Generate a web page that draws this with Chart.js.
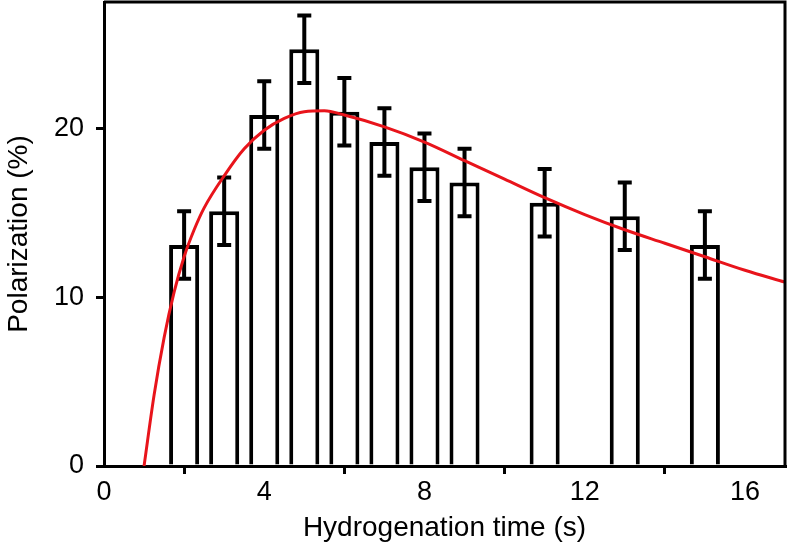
<!DOCTYPE html>
<html>
<head>
<meta charset="utf-8">
<script src="https://cdn.jsdelivr.net/npm/chart.js@4"></script>
<style>
  html, body { margin: 0; padding: 0; background: #fff; }
  #wrap { width: 788px; height: 555px; }
</style>
</head>
<body>
<div id="wrap"><canvas id="chart" width="788" height="555"></canvas></div>
<script>
// measured bars (hydrogenation time in s, polarization in %)
const barTimes = [2, 3, 4, 5, 6, 7, 8, 9, 11, 13, 15];
const barValues = [13.1, 15.1, 20.8, 24.7, 21.0, 19.2, 17.7, 16.8, 15.6, 14.8, 13.1];
const barErrors = [2.0, 2.0, 2.0, 2.0, 2.0, 2.0, 2.0, 2.0, 2.0, 2.0, 2.0];

// fitted curve
const fitTimes = [1, 1.25, 1.5, 1.75, 2, 2.25, 2.5, 3, 3.5, 4, 4.5, 5, 5.5, 6, 7, 8, 9, 10, 11, 12, 13, 14, 15, 16, 17];
const fitValues = [0, 4.2, 7.6, 10.3, 12.4, 14.0, 15.3, 17.2, 18.8, 19.9, 20.6, 21.0, 21.05, 20.8, 20.1, 19.2, 18.1, 17.0, 15.9, 14.9, 14.0, 13.2, 12.4, 11.6, 10.9];

const xTicks = [0, 4, 8, 12, 16];
const yTicks = [0, 10, 20];

const font = "'Liberation Sans', Arial, Helvetica, sans-serif";

const errorBars = {
    id: "errorBars",
    afterDatasetDraw(chart, args) {
        if (args.index !== 0) return;
        const ctx = chart.ctx;
        const xs = chart.scales.x;
        const ys = chart.scales.y;
        ctx.save();
        ctx.strokeStyle = "#000";
        ctx.lineWidth = 4;
        barTimes.forEach((t, i) => {
            const px = xs.getPixelForValue(t);
            const top = ys.getPixelForValue(barValues[i] + barErrors[i]);
            const bot = ys.getPixelForValue(barValues[i] - barErrors[i]);
            ctx.beginPath();
            ctx.moveTo(px, top);
            ctx.lineTo(px, bot);
            ctx.moveTo(px - 7, top);
            ctx.lineTo(px + 7, top);
            ctx.moveTo(px - 7, bot);
            ctx.lineTo(px + 7, bot);
            ctx.stroke();
        });
        ctx.restore();
    }
};

const frame = {
    id: "frame",
    afterDraw(chart) {
        const { ctx, chartArea } = chart;
        ctx.save();
        ctx.strokeStyle = "#000";
        ctx.lineWidth = 3;
        ctx.beginPath();
        ctx.moveTo(chartArea.left, chartArea.top);
        ctx.lineTo(chartArea.right, chartArea.top);
        ctx.lineTo(chartArea.right, chartArea.bottom);
        ctx.stroke();
        ctx.restore();
    }
};

const ctx = document.getElementById("chart").getContext("2d");
new Chart(ctx, {
    type: "bar",
    data: {
        datasets: [{
            type: "bar",
            data: barTimes.map((t, i) => ({ x: t, y: barValues[i] })),
            backgroundColor: "#fff",
            borderColor: "#000",
            borderWidth: 4,
            borderSkipped: "start",
            barPercentage: 0.75,
            categoryPercentage: 1,
            order: 1
        }, {
            type: "line",
            data: fitTimes.map((t, i) => ({ x: t, y: fitValues[i] })),
            borderColor: "#e8141b",
            borderWidth: 3,
            pointRadius: 0,
            cubicInterpolationMode: "monotone",
            fill: false,
            order: 0
        }]
    },
    options: {
        responsive: false,
        animation: false,
        layout: { padding: { left: 0, right: 3, top: 2, bottom: 0 } },
        plugins: {
            legend: { display: false },
            tooltip: { enabled: false }
        },
        scales: {
            x: {
                type: "linear",
                min: 0,
                max: 17,
                offset: false,
                afterBuildTicks: s => { s.ticks = xTicks.map(v => ({ value: v })); },
                afterFit: s => { s.height = 89; s.paddingLeft = 0; s.paddingRight = 0; },
                border: { display: true, color: "#000", width: 3 },
                grid: { display: true, drawOnChartArea: false, drawTicks: true, tickLength: 8, color: "#000", lineWidth: 3 },
                ticks: { color: "#000", padding: 2, font: { family: font, size: 27 }, maxRotation: 0 },
                title: {
                    display: true,
                    text: "Hydrogenation time (s)",
                    color: "#000",
                    font: { family: font, size: 28 },
                    padding: { top: 0, bottom: 10 }
                }
            },
            y: {
                min: 0,
                max: 27.5,
                afterBuildTicks: s => { s.ticks = yTicks.map(v => ({ value: v })); },
                afterFit: s => { s.width = 104; s.paddingTop = 0; s.paddingBottom = 0; },
                border: { display: true, color: "#000", width: 3 },
                grid: { display: true, drawOnChartArea: false, drawTicks: true, tickLength: 8, color: "#000", lineWidth: 3 },
                ticks: { color: "#000", padding: 12, font: { family: font, size: 27 } },
                title: {
                    display: true,
                    text: "Polarization (%)",
                    color: "#000",
                    font: { family: font, size: 28 },
                    padding: { top: 2, bottom: 0 }
                }
            }
        }
    },
    plugins: [errorBars, frame]
});
</script>
</body>
</html>
